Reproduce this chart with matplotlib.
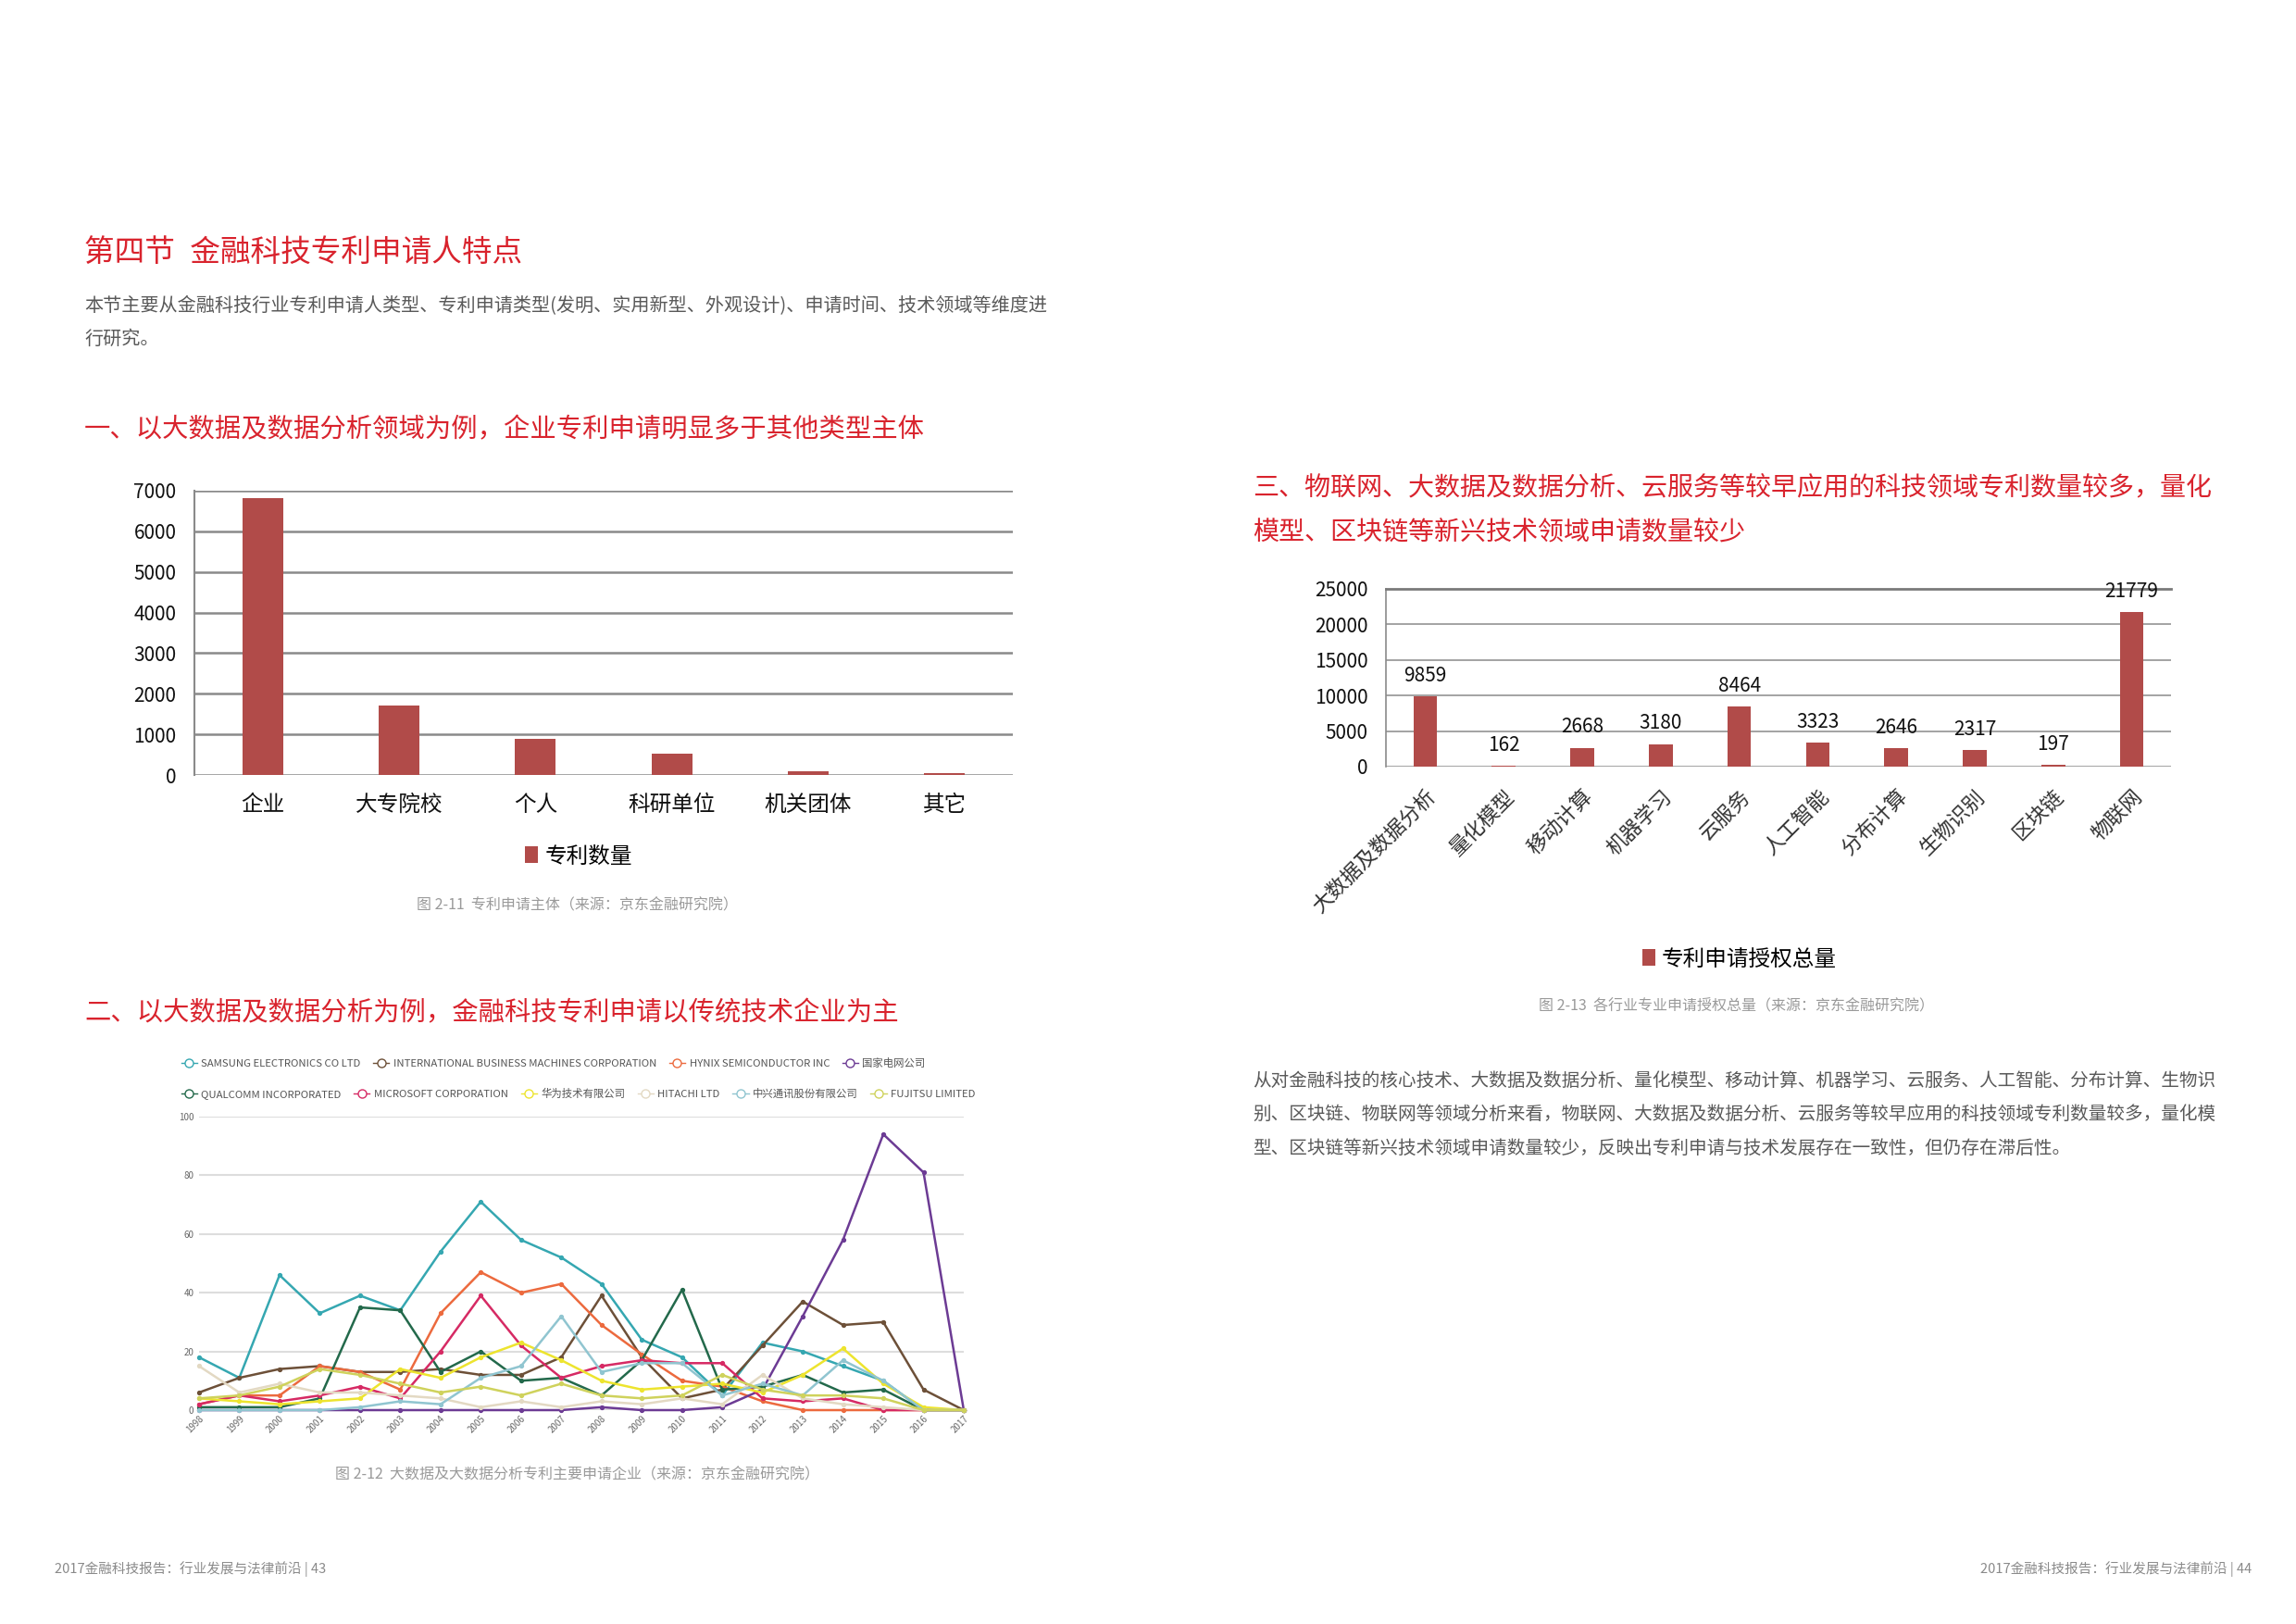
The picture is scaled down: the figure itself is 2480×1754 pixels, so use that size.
import matplotlib
matplotlib.use('Agg')
import matplotlib.pyplot as plt
from matplotlib.lines import Line2D

plt.rcParams['font.family'] = ['Noto Sans CJK SC', 'DejaVu Sans']

W, H = 2480, 1754
RED = '#D9232D'
BAR = '#B14B49'

# 图2-11 专利申请主体
applicant_types = ['企业', '大专院校', '个人', '科研单位', '机关团体', '其它']
applicant_counts = [6810, 1715, 890, 525, 90, 45]

# 图2-13 各行业专业申请授权总量
tech_fields = ['大数据及数据分析', '量化模型', '移动计算', '机器学习', '云服务',
               '人工智能', '分布计算', '生物识别', '区块链', '物联网']
tech_totals = [9859, 162, 2668, 3180, 8464, 3323, 2646, 2317, 197, 21779]

# 图2-12 主要申请企业 (1998-2017)
years = [1998, 1999, 2000, 2001, 2002, 2003, 2004, 2005, 2006, 2007,
         2008, 2009, 2010, 2011, 2012, 2013, 2014, 2015, 2016, 2017]
samsung = [18, 11, 46, 33, 39, 34, 54, 71, 58, 52, 43, 24, 18, 5, 23, 20, 15, 10, 0, 0]
ibm = [6, 11, 14, 15, 13, 13, 14, 12, 12, 18, 39, 18, 4, 7, 22, 37, 29, 30, 7, 0]
hynix = [2, 5, 5, 15, 13, 7, 33, 47, 40, 43, 29, 19, 10, 8, 3, 0, 0, 0, 0, 0]
sgcc = [0, 0, 0, 0, 0, 0, 0, 0, 0, 0, 1, 0, 0, 1, 7, 32, 58, 94, 81, 0]
qualcomm = [1, 1, 1, 4, 35, 34, 13, 20, 10, 11, 5, 17, 41, 7, 8, 12, 6, 7, 0, 0]
microsoft = [2, 5, 3, 5, 8, 4, 20, 39, 22, 11, 15, 17, 16, 16, 4, 3, 4, 0, 0, 0]
huawei = [4, 3, 2, 3, 4, 14, 11, 18, 23, 17, 10, 7, 8, 9, 6, 12, 21, 9, 1, 0]
hitachi = [15, 6, 9, 6, 6, 5, 4, 1, 3, 1, 3, 2, 4, 2, 12, 4, 2, 1, 0, 0]
zte = [0, 0, 0, 0, 1, 3, 2, 11, 15, 32, 13, 16, 16, 5, 9, 5, 17, 10, 0, 0]
fujitsu = [4, 5, 8, 14, 12, 9, 6, 8, 5, 9, 5, 4, 5, 12, 7, 5, 5, 4, 0, 0]

company_names = ['SAMSUNG ELECTRONICS CO LTD', 'INTERNATIONAL BUSINESS MACHINES CORPORATION',
                 'HYNIX SEMICONDUCTOR INC', '国家电网公司',
                 'QUALCOMM INCORPORATED', 'MICROSOFT CORPORATION', '华为技术有限公司',
                 'HITACHI LTD', '中兴通讯股份有限公司', 'FUJITSU LIMITED']
company_series = [samsung, ibm, hynix, sgcc, qualcomm, microsoft, huawei, hitachi, zte, fujitsu]
company_colors = ['#35A7B1', '#6D5038', '#EC6A3E', '#6C3B94', '#23694B', '#D62A64',
                  '#EDE42E', '#E3D9C3', '#90C5D0', '#CFD25C']


def box(x0, y0, x1, y1):
    return [x0 / W, 1 - y1 / H, (x1 - x0) / W, (y1 - y0) / H]


def put(x, y, s, **kw):
    fig.text(x / W, 1 - y / H, s, **kw)


fig = plt.figure(figsize=(W / 100, H / 100), dpi=100)
fig.patch.set_facecolor('white')

# ---- page text ----
put(91, 273, '第四节\u2002金融科技专利申请人特点', fontsize=23.5, color=RED, va='center')
put(91, 331, '本节主要从金融科技行业专利申请人类型、专利申请类型(发明、实用新型、外观设计)、申请时间、技术领域等维度进',
    fontsize=14.5, color='#595959', va='center')
put(91, 366, '行研究。', fontsize=14.5, color='#595959', va='center')
put(91, 464, '一、以大数据及数据分析领域为例，企业专利申请明显多于其他类型主体', fontsize=20.4, color=RED, va='center')
put(91, 1094, '二、以大数据及数据分析为例，金融科技专利申请以传统技术企业为主', fontsize=20.4, color=RED, va='center')
put(1353, 526, '三、物联网、大数据及数据分析、云服务等较早应用的科技领域专利数量较多，量化',
    fontsize=20.2, color=RED, va='center')
put(1353, 574, '模型、区块链等新兴技术领域申请数量较少', fontsize=20.2, color=RED, va='center')

para = ['从对金融科技的核心技术、大数据及数据分析、量化模型、移动计算、机器学习、云服务、人工智能、分布计算、生物识',
        '别、区块链、物联网等领域分析来看，物联网、大数据及数据分析、云服务等较早应用的科技领域专利数量较多，量化模',
        '型、区块链等新兴技术领域申请数量较少，反映出专利申请与技术发展存在一致性，但仍存在滞后性。']
for i, line in enumerate(para):
    put(1353, 1167 + i * 36.5, line, fontsize=14.1, color='#595959', va='center')

put(623, 978, '图 2-11  专利申请主体（来源：京东金融研究院）', fontsize=11.5, color='#9a9a9a', ha='center', va='center')
put(1876, 1087, '图 2-13  各行业专业申请授权总量（来源：京东金融研究院）', fontsize=11.5, color='#9a9a9a',
    ha='center', va='center')
put(623, 1593, '图 2-12  大数据及大数据分析专利主要申请企业（来源：京东金融研究院）', fontsize=11.5, color='#9a9a9a',
    ha='center', va='center')
put(59, 1695, '2017金融科技报告：行业发展与法律前沿 | 43', fontsize=10.5, color='#8a8a8a', va='center')
put(2432, 1695, '2017金融科技报告：行业发展与法律前沿 | 44', fontsize=10.5, color='#8a8a8a', va='center', ha='right')

# ---- chart 1: applicant types ----
ax1 = fig.add_axes(box(210, 530, 1094, 837))
b1 = ax1.bar(range(len(applicant_types)), applicant_counts, width=0.3, color=BAR, zorder=3, label='专利数量')
ax1.set_xlim(-0.5, len(applicant_types) - 0.5)
ax1.set_ylim(0, 7000)
ax1.set_yticks(range(0, 7001, 1000))
ax1.set_xticks(range(len(applicant_types)))
ax1.set_xticklabels(applicant_types, fontsize=17, color='#111111')
ax1.tick_params(axis='y', labelsize=15, colors='#111111', length=0, pad=14)
ax1.tick_params(axis='x', length=0, pad=15)
ax1.grid(axis='y', color='#8a8a8a', linewidth=1.8, zorder=0)
for s in ['top', 'right', 'bottom']:
    ax1.spines[s].set_visible(False)
ax1.spines['left'].set_color('#8a8a8a')
ax1.spines['left'].set_linewidth(1.5)
fig.legend(handles=[b1], loc='center', bbox_to_anchor=(625 / W, 1 - 925 / H), frameon=False,
           fontsize=17, handlelength=0.6, handleheight=0.8, handletextpad=0.3, borderpad=0)

# ---- chart 3: tech fields ----
ax2 = fig.add_axes(box(1497, 636, 2345, 828))
b2 = ax2.bar(range(len(tech_fields)), tech_totals, width=0.3, color=BAR, zorder=3, label='专利申请授权总量')
ax2.bar_label(b2, padding=8, fontsize=15, color='#111111')
ax2.set_xlim(-0.5, len(tech_fields) - 0.5)
ax2.set_ylim(0, 25000)
ax2.set_yticks(range(0, 25001, 5000))
ax2.set_xticks(range(len(tech_fields)))
ax2.set_xticklabels(tech_fields, rotation=45, ha='right', rotation_mode='anchor', fontsize=16, color='#333333')
ax2.tick_params(axis='y', labelsize=15, colors='#111111', length=0, pad=14)
ax2.tick_params(axis='x', length=0, pad=15)
ax2.grid(axis='y', color='#8a8a8a', linewidth=1.1, zorder=0)
for s in ['right', 'bottom']:
    ax2.spines[s].set_visible(False)
ax2.spines['top'].set_color('#7a7a7a')
ax2.spines['top'].set_linewidth(2)
ax2.spines['left'].set_color('#8a8a8a')
ax2.spines['left'].set_linewidth(1.2)
fig.legend(handles=[b2], loc='center', bbox_to_anchor=(1879 / W, 1 - 1036 / H), frameon=False,
           fontsize=17, handlelength=0.6, handleheight=0.8, handletextpad=0.3, borderpad=0)

# ---- chart 2: main applicants over time ----
ax3 = fig.add_axes(box(215, 1206, 1041, 1523))
for name, vals, c in zip(company_names, company_series, company_colors):
    ax3.plot(years, vals, color=c, linewidth=1.8, marker='o', markersize=2.8, clip_on=False, zorder=3)
ax3.set_xlim(years[0], years[-1])
ax3.set_ylim(0, 100)
ax3.set_yticks(range(0, 101, 20))
ax3.set_xticks(years)
ax3.set_xticklabels([str(y) for y in years], rotation=45, ha='right', rotation_mode='anchor')
ax3.tick_params(axis='both', labelsize=7, colors='#666666', length=0)
ax3.tick_params(axis='y', pad=4)
ax3.tick_params(axis='x', pad=3)
ax3.grid(axis='y', color='#DDDDDD', linewidth=1.5, zorder=0)
for s in ax3.spines.values():
    s.set_visible(False)

handles = [Line2D([], [], color=c, linewidth=1.0, marker='o', markersize=6.5, markerfacecolor='white',
                  markeredgewidth=1.0) for c in company_colors]
leg_kw = dict(loc='center left', frameon=False, fontsize=8.2, handlelength=1.5, handletextpad=0.4,
              columnspacing=1.2, borderpad=0, labelcolor='#555555')
leg1 = fig.legend(handles[:4], company_names[:4], ncol=4, bbox_to_anchor=(190 / W, 1 - 1148 / H), **leg_kw)
leg2 = fig.legend(handles[4:], company_names[4:], ncol=6, bbox_to_anchor=(190 / W, 1 - 1181 / H), **leg_kw)

fig.savefig('out.png', dpi=100, facecolor='white')
